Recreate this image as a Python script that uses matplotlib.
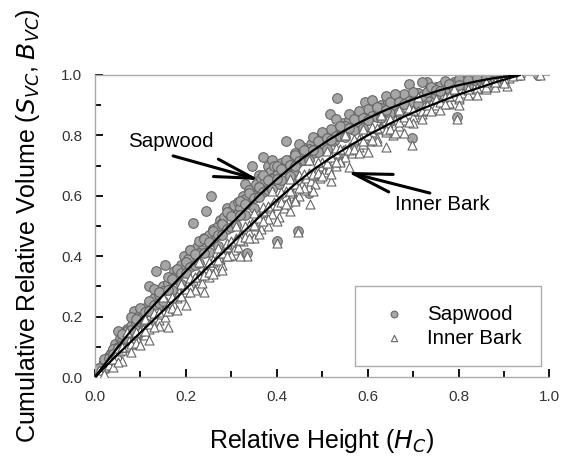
import matplotlib
matplotlib.use("Agg")
import matplotlib.pyplot as plt
from matplotlib.ticker import MultipleLocator

plt.rcParams['font.family'] = ['Liberation Sans', 'DejaVu Sans']

# fitted curves
fit_x = [0, 0.04, 0.08, 0.12, 0.16, 0.20, 0.24, 0.28, 0.32, 0.36, 0.40, 0.44,
         0.48, 0.52, 0.56, 0.60, 0.64, 0.68, 0.72, 0.76, 0.80, 0.84, 0.88, 0.935]
sap_fit = [0, 0.078, 0.155, 0.222, 0.287, 0.35, 0.412, 0.476, 0.538, 0.60, 0.655, 0.705,
           0.75, 0.79, 0.825, 0.856, 0.884, 0.908, 0.93, 0.95, 0.966, 0.979, 0.99, 1.0]
bark_fit = [0, 0.06, 0.118, 0.176, 0.234, 0.292, 0.352, 0.41, 0.47, 0.528, 0.585, 0.638,
            0.686, 0.727, 0.765, 0.80, 0.832, 0.862, 0.888, 0.912, 0.935, 0.955, 0.975, 1.0]

# observations - Sapwood (scattered points incl. outliers)
sap_x = [0.0, 0.005, 0.01, 0.015, 0.02, 0.025, 0.03, 0.035, 0.04, 0.045, 0.05, 0.055, 0.06,
         0.065, 0.07, 0.075, 0.08, 0.085, 0.09, 0.095, 0.1, 0.105, 0.11, 0.115, 0.12, 0.125,
         0.13, 0.135, 0.14, 0.145, 0.15, 0.155, 0.16, 0.165, 0.17, 0.175, 0.18, 0.185, 0.19,
         0.195, 0.2, 0.205, 0.21, 0.215, 0.22, 0.225, 0.23, 0.235, 0.24, 0.245, 0.25, 0.255,
         0.26, 0.265, 0.27, 0.275, 0.28, 0.285, 0.29, 0.295, 0.30, 0.305, 0.31, 0.315, 0.32,
         0.325, 0.33, 0.33, 0.335, 0.34, 0.345, 0.35, 0.355, 0.36, 0.36, 0.365, 0.37, 0.375,
         0.38, 0.38, 0.385, 0.39, 0.39, 0.395, 0.40, 0.40, 0.405, 0.41, 0.415, 0.42, 0.425,
         0.43, 0.435, 0.44, 0.445, 0.447, 0.45, 0.455, 0.46, 0.465, 0.47, 0.475, 0.48, 0.485,
         0.49, 0.495, 0.50, 0.505, 0.51, 0.517, 0.52, 0.525, 0.532, 0.535, 0.54, 0.545, 0.55,
         0.56, 0.565, 0.57, 0.58, 0.585, 0.594, 0.60, 0.605, 0.61, 0.62, 0.625, 0.63, 0.64,
         0.645, 0.65, 0.66, 0.67, 0.675, 0.68, 0.69, 0.697, 0.70, 0.71, 0.72, 0.73, 0.735,
         0.74, 0.75, 0.76, 0.77, 0.78, 0.79, 0.796, 0.80, 0.81, 0.82, 0.83, 0.84, 0.85, 0.86,
         0.87, 0.88, 0.89, 0.90, 0.91, 0.92, 0.935, 0.975]
sap_y = [0.0, 0.01, 0.03, 0.03, 0.05, 0.06, 0.07, 0.08, 0.09, 0.11, 0.10, 0.13, 0.12,
         0.15, 0.16, 0.14, 0.17, 0.22, 0.18, 0.20, 0.21, 0.19, 0.23, 0.22, 0.30, 0.25,
         0.26, 0.35, 0.27, 0.29, 0.30, 0.37, 0.31, 0.33, 0.32, 0.35, 0.34, 0.36, 0.37,
         0.40, 0.38, 0.39, 0.42, 0.51, 0.41, 0.43, 0.45, 0.42, 0.46, 0.55, 0.47, 0.60,
         0.49, 0.48, 0.50, 0.52, 0.51, 0.53, 0.56, 0.54, 0.55, 0.57, 0.53, 0.58, 0.56,
         0.60, 0.59, 0.64, 0.41, 0.62, 0.70, 0.60, 0.64, 0.63, 0.67, 0.66, 0.73, 0.65,
         0.62, 0.70, 0.68, 0.66, 0.72, 0.70, 0.45, 0.67, 0.64, 0.71, 0.69, 0.78, 0.70,
         0.72, 0.68, 0.74, 0.71, 0.485, 0.73, 0.76, 0.72, 0.75, 0.61, 0.77, 0.74, 0.79,
         0.76, 0.78, 0.80, 0.77, 0.79, 0.87, 0.81, 0.78, 0.925, 0.82, 0.80, 0.84, 0.83,
         0.85, 0.82, 0.86, 0.84, 0.87, 0.91, 0.86, 0.88, 0.87, 0.89, 0.86, 0.90, 0.88,
         0.91, 0.89, 0.92, 0.90, 0.91, 0.93, 0.92, 0.79, 0.93, 0.94, 0.92, 0.975, 0.95,
         0.94, 0.96, 0.95, 0.97, 0.96, 0.975, 0.862, 0.97, 0.98, 0.975, 0.985, 0.98, 0.99, 0.985,
         0.99, 0.995, 0.99, 1.0, 0.995, 1.0, 1.0, 1.0]

# Sapwood - dense band along the fitted curve (two readings per height)
sap_band_x = [0.01, 0.02, 0.03, 0.04, 0.05, 0.06, 0.07, 0.08, 0.09, 0.10, 0.11, 0.12, 0.13,
              0.14, 0.15, 0.16, 0.17, 0.18, 0.19, 0.20, 0.21, 0.22, 0.23, 0.24, 0.25, 0.26,
              0.27, 0.28, 0.29, 0.30, 0.31, 0.32, 0.33, 0.34, 0.35, 0.36, 0.37, 0.38, 0.39,
              0.40, 0.41, 0.42, 0.43, 0.44, 0.45, 0.46, 0.47, 0.48, 0.49, 0.50, 0.51, 0.52,
              0.53, 0.54, 0.55, 0.56, 0.57, 0.58, 0.59, 0.60, 0.61, 0.62, 0.63, 0.64, 0.65,
              0.66, 0.67, 0.68, 0.69, 0.70, 0.71, 0.72, 0.73, 0.74, 0.75, 0.76, 0.77, 0.78,
              0.79, 0.80, 0.82, 0.84, 0.86, 0.88, 0.90]
sap_band_a = [0.012, 0.042, 0.045, 0.093, 0.097, 0.106, 0.151, 0.20, 0.157, 0.194, 0.18,
              0.252, 0.238, 0.245, 0.286, 0.332, 0.288, 0.323, 0.309, 0.38, 0.365, 0.371,
              0.411, 0.457, 0.413, 0.449, 0.435, 0.506, 0.491, 0.497, 0.537, 0.583, 0.538,
              0.574, 0.559, 0.63, 0.614, 0.618, 0.656, 0.70, 0.652, 0.685, 0.667, 0.735,
              0.716, 0.718, 0.754, 0.795, 0.745, 0.775, 0.755, 0.82, 0.799, 0.797, 0.831,
              0.87, 0.818, 0.845, 0.823, 0.886, 0.863, 0.86, 0.892, 0.929, 0.875, 0.901,
              0.877, 0.938, 0.914, 0.909, 0.94, 0.975, 0.928, 0.943, 0.933, 0.965, 0.954,
              0.953, 0.97, 0.988, 0.965, 0.981, 0.973, 0.995, 0.994]
sap_band_b = [0.03, 0.059, 0.063, 0.075, 0.152, 0.141, 0.116, 0.155, 0.192, 0.229, 0.215,
              0.217, 0.293, 0.28, 0.251, 0.287, 0.323, 0.358, 0.344, 0.345, 0.42, 0.406,
              0.376, 0.412, 0.448, 0.484, 0.47, 0.471, 0.546, 0.532, 0.502, 0.538, 0.573,
              0.609, 0.594, 0.595, 0.669, 0.653, 0.621, 0.655, 0.687, 0.72, 0.702, 0.70,
              0.771, 0.753, 0.719, 0.75, 0.78, 0.81, 0.79, 0.785, 0.854, 0.832, 0.796,
              0.825, 0.853, 0.88, 0.858, 0.851, 0.918, 0.895, 0.857, 0.884, 0.91, 0.936,
              0.912, 0.903, 0.969, 0.944, 0.905, 0.93, 0.945, 0.96, 0.95, 0.948, 0.98,
              0.97, 0.952, 0.966, 0.982, 0.99, 0.99, 0.984, 1.0]

# observations - Inner Bark (scattered points incl. outliers)
bark_x = [0.0, 0.005, 0.01, 0.015, 0.02, 0.025, 0.03, 0.035, 0.04, 0.045, 0.05, 0.055, 0.06,
          0.065, 0.07, 0.075, 0.08, 0.085, 0.09, 0.095, 0.1, 0.105, 0.11, 0.115, 0.12, 0.125,
          0.13, 0.135, 0.14, 0.145, 0.15, 0.155, 0.16, 0.165, 0.17, 0.175, 0.18, 0.185, 0.19,
          0.195, 0.2, 0.205, 0.21, 0.215, 0.22, 0.225, 0.23, 0.235, 0.24, 0.245, 0.25, 0.255,
          0.26, 0.265, 0.27, 0.275, 0.28, 0.285, 0.29, 0.295, 0.30, 0.305, 0.31, 0.315, 0.32,
          0.325, 0.33, 0.335, 0.34, 0.345, 0.35, 0.355, 0.36, 0.365, 0.37, 0.375, 0.38, 0.385,
          0.39, 0.395, 0.40, 0.40, 0.405, 0.41, 0.415, 0.42, 0.425, 0.43, 0.435, 0.44, 0.445,
          0.447, 0.45, 0.455, 0.46, 0.465, 0.47, 0.473, 0.475, 0.48, 0.485, 0.49, 0.495, 0.50,
          0.505, 0.51, 0.515, 0.52, 0.525, 0.53, 0.535, 0.54, 0.545, 0.55, 0.56, 0.565, 0.57,
          0.58, 0.585, 0.59, 0.60, 0.605, 0.61, 0.62, 0.625, 0.63, 0.64, 0.645, 0.656, 0.66,
          0.67, 0.675, 0.68, 0.69, 0.697, 0.70, 0.71, 0.72, 0.73, 0.74, 0.75, 0.76, 0.77,
          0.78, 0.79, 0.796, 0.80, 0.81, 0.82, 0.83, 0.84, 0.85, 0.86, 0.87, 0.88, 0.89,
          0.90, 0.907, 0.91, 0.92, 0.935, 0.98]
bark_y = [0.0, 0.005, 0.01, 0.025, 0.03, 0.04, 0.04, 0.055, 0.06, 0.07, 0.07, 0.085, 0.09,
          0.10, 0.10, 0.12, 0.11, 0.13, 0.14, 0.12, 0.15, 0.16, 0.14, 0.17, 0.16, 0.19,
          0.18, 0.20, 0.19, 0.21, 0.22, 0.20, 0.24, 0.23, 0.25, 0.24, 0.26, 0.28, 0.27,
          0.29, 0.28, 0.31, 0.30, 0.32, 0.29, 0.33, 0.34, 0.31, 0.35, 0.36, 0.33, 0.37,
          0.38, 0.35, 0.40, 0.39, 0.37, 0.41, 0.43, 0.40, 0.44, 0.42, 0.46, 0.43, 0.47,
          0.45, 0.49, 0.40, 0.48, 0.51, 0.46, 0.50, 0.53, 0.49, 0.55, 0.52, 0.50, 0.56,
          0.54, 0.58, 0.445, 0.57, 0.53, 0.59, 0.56, 0.60, 0.58, 0.55, 0.61, 0.59, 0.63,
          0.48, 0.60, 0.64, 0.62, 0.66, 0.63, 0.572, 0.65, 0.67, 0.64, 0.69, 0.66, 0.70,
          0.68, 0.71, 0.69, 0.65, 0.72, 0.70, 0.74, 0.72, 0.75, 0.73, 0.76, 0.74, 0.78,
          0.76, 0.79, 0.77, 0.80, 0.78, 0.81, 0.79, 0.82, 0.83, 0.81, 0.84, 0.80, 0.85,
          0.83, 0.86, 0.85, 0.87, 0.768, 0.86, 0.88, 0.87, 0.89, 0.90, 0.89, 0.91, 0.92,
          0.905, 0.93, 0.855, 0.92, 0.94, 0.95, 0.94, 0.955, 0.96, 0.955, 0.97, 0.975, 0.98,
          0.985, 0.964, 0.99, 0.995, 1.0, 1.0]

# Inner Bark - dense band along the fitted curve (two readings per height)
bark_band_x = sap_band_x
bark_band_a = [0.005, 0.032, 0.04, 0.032, 0.095, 0.054, 0.104, 0.11, 0.113, 0.152, 0.152,
               0.121, 0.211, 0.17, 0.22, 0.219, 0.229, 0.268, 0.268, 0.237, 0.327, 0.287,
               0.337, 0.337, 0.347, 0.386, 0.386, 0.355, 0.445, 0.405, 0.455, 0.455, 0.465,
               0.504, 0.504, 0.473, 0.562, 0.522, 0.571, 0.57, 0.578, 0.617, 0.615, 0.583,
               0.67, 0.627, 0.674, 0.671, 0.676, 0.712, 0.707, 0.672, 0.757, 0.711, 0.755,
               0.75, 0.754, 0.788, 0.782, 0.745, 0.828, 0.781, 0.824, 0.817, 0.82, 0.852,
               0.845, 0.807, 0.889, 0.84, 0.882, 0.88, 0.884, 0.903, 0.901, 0.885, 0.928,
               0.906, 0.93, 0.927, 0.935, 0.957, 0.96, 0.96, 0.99]
bark_band_b = [0.022, 0.01, 0.06, 0.06, 0.05, 0.099, 0.149, 0.083, 0.148, 0.107, 0.192,
               0.176, 0.166, 0.215, 0.265, 0.164, 0.264, 0.223, 0.308, 0.292, 0.282, 0.332,
               0.382, 0.282, 0.382, 0.341, 0.426, 0.41, 0.40, 0.45, 0.50, 0.40, 0.50,
               0.459, 0.544, 0.528, 0.517, 0.567, 0.616, 0.515, 0.613, 0.572, 0.655, 0.638,
               0.625, 0.672, 0.719, 0.616, 0.711, 0.667, 0.747, 0.727, 0.712, 0.756, 0.80,
               0.695, 0.789, 0.743, 0.822, 0.80, 0.783, 0.826, 0.869, 0.762, 0.855, 0.807,
               0.885, 0.862, 0.844, 0.885, 0.927, 0.853, 0.902, 0.88, 0.921, 0.912, 0.905,
               0.929, 0.952, 0.90, 0.953, 0.935, 0.975, 0.975, 0.972]

fig = plt.figure(figsize=(5.65, 4.57), dpi=100)
ax = fig.add_axes([0.168, 0.175, 0.8044, 0.661])

all_sap_x = sap_x + sap_band_x + sap_band_x
all_sap_y = sap_y + sap_band_a + sap_band_b
all_bark_x = bark_x + bark_band_x + bark_band_x
all_bark_y = bark_y + bark_band_a + bark_band_b

ax.scatter(all_sap_x, all_sap_y, s=48, marker='o', facecolor='#a6a6a6', edgecolor='#666666',
           linewidth=0.8, zorder=2, label='Sapwood')
ax.scatter(all_bark_x, all_bark_y, s=42, marker='^', facecolor='white', edgecolor='#666666',
           linewidth=0.8, zorder=3, label='Inner Bark')
ax.plot(fit_x, sap_fit, color='black', lw=1.6, zorder=4)
ax.plot(fit_x, bark_fit, color='black', lw=1.6, zorder=4)

ax.set_xlim(0, 1.0)
ax.set_ylim(0, 1.0)
ax.xaxis.set_major_locator(MultipleLocator(0.2))
ax.xaxis.set_minor_locator(MultipleLocator(0.1))
ax.yaxis.set_major_locator(MultipleLocator(0.2))
ax.yaxis.set_minor_locator(MultipleLocator(0.1))
ax.xaxis.set_major_formatter(lambda v, p: f"{v:.1f}")
ax.yaxis.set_major_formatter(lambda v, p: f"{v:.1f}")
ax.tick_params(which='both', direction='in', width=1.3, color='black', labelsize=11,
               labelcolor='#333333', top=False, right=False)
ax.tick_params(which='major', length=6, pad=9)
ax.tick_params(which='minor', length=4.5)
ax.spines['right'].set_visible(False)
for sp in ['top', 'left', 'bottom']:
    ax.spines[sp].set_color('#aaaaaa')
    ax.spines[sp].set_linewidth(1.0)

ax.set_xlabel('Relative Height ($\\it{H_C}$)', fontsize=18, labelpad=17)
ax.set_ylabel('Cumulative Relative Volume ($\\it{S_{VC}}$, $\\it{B_{VC}}$)', fontsize=18,
              labelpad=14)

arrow = dict(arrowstyle='->, head_length=2.8, head_width=0.65', color='black', lw=2.2,
             mutation_scale=10, shrinkA=0, shrinkB=0)
ax.annotate('Sapwood', xy=(0.363, 0.652), xytext=(0.167, 0.78), fontsize=14.8,
            ha='center', va='center', zorder=6)
ax.annotate('', xy=(0.363, 0.652), xytext=(0.172, 0.732), arrowprops=arrow, zorder=6)
ax.annotate('Inner Bark', xy=(0.554, 0.679), xytext=(0.765, 0.57), fontsize=14.8,
            ha='center', va='center', zorder=6)
ax.annotate('', xy=(0.554, 0.679), xytext=(0.737, 0.609), arrowprops=arrow, zorder=6)

leg = ax.legend(loc='center', bbox_to_anchor=(0.573, 0.036, 0.408, 0.264),
                bbox_transform=ax.transData, mode='expand', fontsize=14.8,
                frameon=True, fancybox=False, edgecolor='#999999', borderpad=0.9,
                markerscale=0.7, handletextpad=0.6, labelspacing=0.25,
                borderaxespad=0)
leg.get_frame().set_linewidth(1.0)
leg.set_zorder(7)

fig.savefig('out.png', dpi=100)
